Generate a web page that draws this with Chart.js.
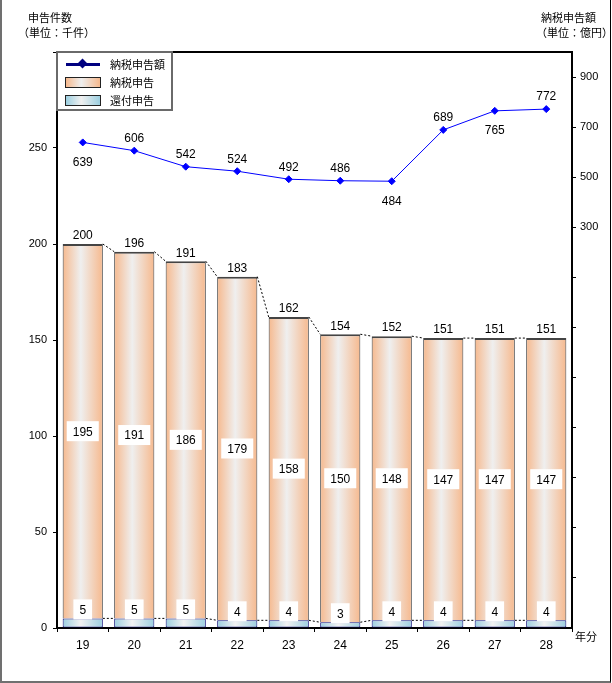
<!DOCTYPE html>
<html>
<head>
<meta charset="utf-8">
<script src="https://cdn.jsdelivr.net/npm/chart.js@4/dist/chart.umd.min.js"></script>
<style>
  body { margin: 0; background: #fff; }
  #wrap { position: relative; width: 612px; height: 683px; font-family: "Noto Sans CJK JP", sans-serif; }
  #frame { position: absolute; left: 0; top: 0; width: 611px; height: 683px; box-sizing: border-box;
           border-left: 2px solid #707070; border-right: 1px solid #000; border-bottom: 2px solid #707070; pointer-events: none; }
  .t { position: absolute; font-size: 11px; line-height: 13px; color: #000; white-space: nowrap; }
  #legend { position: absolute; left: 56px; top: 51px; width: 117px; height: 60px; box-sizing: border-box;
            border: 2px solid #6a6a6a; background: #fff; }
  .li { position: absolute; left: 0; height: 14px; width: 113px; }
  .li span { position: absolute; left: 52px; top: 0; font-size: 11px; line-height: 14px; }
  .sw { position: absolute; left: 7px; top: 2px; width: 34px; height: 9px; border: 1px solid #222; }
</style>
</head>
<body>
<div id="wrap">
  <canvas id="chart" width="612" height="683"></canvas>
  <div class="t" style="left:28px;top:11px;">申告件数</div>
  <div class="t" style="left:18px;top:26px;">（単位：千件）</div>
  <div class="t" style="left:541px;top:11px;">納税申告額</div>
  <div class="t" style="left:536px;top:26px;">（単位：億円）</div>
  <div class="t" style="left:575px;top:630px;">年分</div>
  <div id="legend">
    <div class="li" style="top:4px;">
      <div style="position:absolute;left:8px;top:6px;width:34px;height:3px;background:#000080;"></div>
      <div style="position:absolute;left:21px;top:3px;width:7px;height:7px;background:#000080;transform:rotate(45deg);"></div>
      <span>納税申告額</span>
    </div>
    <div class="li" style="top:22px;">
      <div class="sw" style="background:linear-gradient(90deg,#f6b98e,#efefef 45%,#f6b98e);"></div>
      <span>納税申告</span>
    </div>
    <div class="li" style="top:40px;">
      <div class="sw" style="background:linear-gradient(90deg,#9ccfe0,#f0f0f0 45%,#9ccfe0);"></div>
      <span>還付申告</span>
    </div>
  </div>
  <div id="frame"></div>
</div>
<script>
// data
const years = ['19', '20', '21', '22', '23', '24', '25', '26', '27', '28'];
const refundReturns = [5, 5, 5, 4, 4, 3, 4, 4, 4, 4];
const taxReturns = [195, 191, 186, 179, 158, 150, 148, 147, 147, 147];
const totalReturns = [200, 196, 191, 183, 162, 154, 152, 151, 151, 151];
const taxAmount = [639, 606, 542, 524, 492, 486, 484, 689, 765, 772];

// right axis tick marks; only these get a label
const rightTicks = [-1100, -900, -700, -500, -300, -100, 100, 300, 500, 700, 900];
const rightLabeled = [300, 500, 700, 900];

// where the line labels sit
const lineLabelSide = ['below', 'above', 'above', 'above', 'above', 'above', 'below', 'above', 'below', 'above'];

const FONT = '"Liberation Sans", "Noto Sans CJK JP", sans-serif';
const BAR_PCT = 0.78;

Chart.defaults.font.family = FONT;
Chart.defaults.font.size = 11;
Chart.defaults.color = '#000';

function barGradient(c, edge, mid) {
    const chart = c.chart;
    const xs = chart.scales.x;
    if (!chart.chartArea || c.type !== 'data' || !xs) return edge;
    const cx = xs.getPixelForValue(c.dataIndex);
    const half = xs.width / years.length * BAR_PCT / 2;
    const g = chart.ctx.createLinearGradient(cx - half, 0, cx + half, 0);
    g.addColorStop(0, edge);
    g.addColorStop(0.45, mid);
    g.addColorStop(1, edge);
    return g;
}

function boxLabel(ctx, text, x, y) {
    const w = ctx.measureText(text).width + 12;
    const h = 20;
    ctx.fillStyle = '#fff';
    ctx.fillRect(x - w / 2, y - h / 2, w, h);
    ctx.fillStyle = '#000';
    ctx.fillText(text, x, y + 1);
}

// dashed series lines between bar tops (like Excel)
const seriesLines = {
    id: 'seriesLines',
    afterDatasetsDraw(chart) {
        const ctx = chart.ctx;
        ctx.save();
        ctx.strokeStyle = '#000';
        ctx.lineWidth = 1;
        ctx.setLineDash([2, 2]);
        [0, 1].forEach(di => {
            const bars = chart.getDatasetMeta(di).data;
            for (let i = 0; i < bars.length - 1; i++) {
                const a = bars[i], b = bars[i + 1];
                ctx.beginPath();
                ctx.moveTo(a.x + a.width / 2, a.y);
                ctx.lineTo(b.x - b.width / 2, b.y);
                ctx.stroke();
            }
        });
        ctx.restore();
    }
};

const valueLabels = {
    id: 'valueLabels',
    afterDraw(chart) {
        const ctx = chart.ctx;
        ctx.save();
        ctx.font = '12px ' + FONT;
        ctx.textAlign = 'center';
        ctx.textBaseline = 'middle';
        const refund = chart.getDatasetMeta(0).data;
        const tax = chart.getDatasetMeta(1).data;
        const line = chart.getDatasetMeta(2).data;
        tax.forEach((bar, i) => {
            boxLabel(ctx, String(taxReturns[i]), bar.x, (bar.y + bar.base) / 2);
            ctx.fillStyle = '#000';
            ctx.fillText(String(totalReturns[i]), bar.x, bar.y - 8);
        });
        refund.forEach((bar, i) => {
            boxLabel(ctx, String(refundReturns[i]), bar.x, bar.y - 9);
        });
        line.forEach((pt, i) => {
            const dy = lineLabelSide[i] === 'below' ? 20 : -12;
            ctx.fillStyle = '#000';
            ctx.fillText(String(taxAmount[i]), pt.x, pt.y + dy);
        });
        ctx.restore();
    }
};

new Chart(document.getElementById('chart').getContext('2d'), {
    data: {
        labels: years,
        datasets: [
            {
                type: 'bar',
                label: '還付申告',
                data: refundReturns,
                backgroundColor: c => barGradient(c, '#9ccfe0', '#f2f2f2'),
                borderColor: '#10107a',
                borderWidth: 1,
                borderSkipped: false,
                barPercentage: BAR_PCT,
                categoryPercentage: 1,
                yAxisID: 'y',
                order: 1
            },
            {
                type: 'bar',
                label: '納税申告',
                data: taxReturns,
                backgroundColor: c => barGradient(c, '#f6b98e', '#efefef'),
                borderColor: '#444',
                borderWidth: { top: 2, left: 1, right: 1, bottom: 0 },
                borderSkipped: false,
                barPercentage: BAR_PCT,
                categoryPercentage: 1,
                yAxisID: 'y',
                order: 1
            },
            {
                type: 'line',
                label: '納税申告額',
                data: taxAmount,
                borderColor: '#0000ff',
                backgroundColor: '#0000ff',
                borderWidth: 1,
                pointStyle: 'rectRot',
                pointRadius: 3.5,
                tension: 0,
                yAxisID: 'y2',
                order: 0
            }
        ]
    },
    options: {
        responsive: false,
        animation: false,
        events: [],
        layout: { padding: { top: 52, left: 0, right: 0, bottom: 0 } },
        plugins: { legend: { display: false }, tooltip: { enabled: false } },
        scales: {
            x: {
                stacked: true,
                offset: true,
                grid: { display: true, drawOnChartArea: false, offset: true, tickLength: 4, color: '#000' },
                border: { color: '#000', width: 2 },
                ticks: { font: { size: 12 }, padding: 6 },
                afterFit: s => { s.height = 55; }
            },
            y: {
                stacked: true,
                position: 'left',
                min: 0,
                max: 300,
                ticks: { stepSize: 50, padding: 6, callback: v => (v === 300 ? '' : v) },
                grid: { drawOnChartArea: false, tickLength: 4, color: '#000' },
                border: { color: '#000', width: 2 },
                afterFit: s => { s.width = 57; }
            },
            y2: {
                position: 'right',
                min: -1300,
                max: 1000,
                afterBuildTicks: s => { s.ticks = rightTicks.map(v => ({ value: v })); },
                ticks: { padding: 4, callback: v => (rightLabeled.includes(v) ? v : '') },
                grid: { drawOnChartArea: false, tickLength: 4, color: '#000' },
                border: { color: '#000', width: 2 },
                afterFit: s => { s.width = 40; }
            }
        }
    },
    plugins: [seriesLines, valueLabels, {
        id: 'topBorder',
        afterDraw(chart) {
            const a = chart.chartArea, ctx = chart.ctx;
            ctx.save();
            ctx.strokeStyle = '#000';
            ctx.lineWidth = 2;
            ctx.beginPath();
            ctx.moveTo(a.left, a.top);
            ctx.lineTo(a.right, a.top);
            ctx.stroke();
            ctx.restore();
        }
    }]
});
</script>
</body>
</html>
